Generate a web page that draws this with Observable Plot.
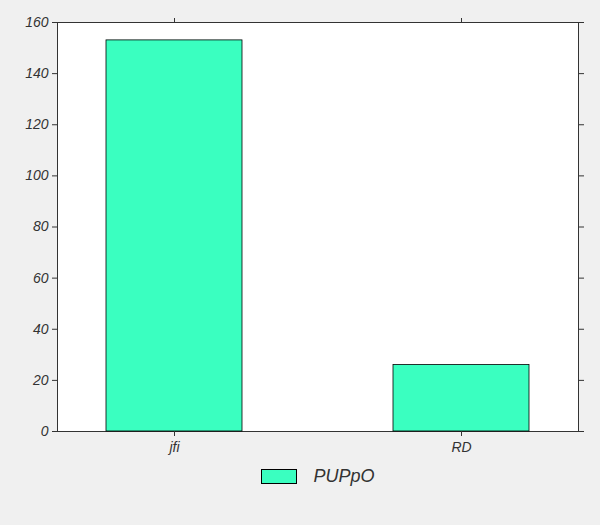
<!DOCTYPE html>
<html>
<head>
<script src="https://cdn.jsdelivr.net/npm/d3@7"></script>
<script src="https://cdn.jsdelivr.net/npm/@observablehq/plot@0.6"></script>
<style>
body { margin:0; background:#f0f0f0; font-family:"Liberation Sans", Arial, sans-serif; }
#legend { display:flex; align-items:center; justify-content:center; gap:16px; margin-left:36px; margin-top:4px; font-style:italic; font-size:18px; color:#333; }
#legend span.sw { width:34px; height:13px; background:#3affc0; border:1px solid #000; display:inline-block; }
</style>
</head>
<body>
<div id="chart"></div>
<div id="legend"><span class="sw"></span><span>PUPpO</span></div>
<script>
const categories = ["jfi", "RD"];
const values = [153, 26];
const yTicks = [0, 20, 40, 60, 80, 100, 120, 140, 160];

const data = categories.map((c, i) => ({cat: c, v: values[i]}));

const chart = Plot.plot({
  width: 600,
  height: 462,
  marginLeft: 57,
  marginRight: 22,
  marginTop: 22,
  marginBottom: 31,
  style: {fontSize: "14px", fontStyle: "italic", fontFamily: "Liberation Sans, Arial, sans-serif", backgroundColor: "#f0f0f0", color: "#333"},
  x: {domain: categories, paddingInner: 0.527, paddingOuter: 0.17, label: null},
  y: {domain: [0, 160], label: null},
  marks: [
    Plot.frame({fill: "white", stroke: "#333"}),
    Plot.barY(data, {x: "cat", y: "v", fill: "#3affc0", stroke: "#000", strokeWidth: 0.8}),
    Plot.axisY({ticks: yTicks, tickSize: 5, tickPadding: 4, fontSize: 14}),
    Plot.axisY({anchor: "right", ticks: yTicks, tickSize: 5, tickFormat: () => ""}),
    Plot.axisX({tickSize: 5, tickPadding: 6, fontSize: 14}),
    Plot.axisX({anchor: "top", tickSize: 5, tickFormat: () => ""})
  ]
});
document.getElementById("chart").append(chart);
</script>
</body>
</html>
